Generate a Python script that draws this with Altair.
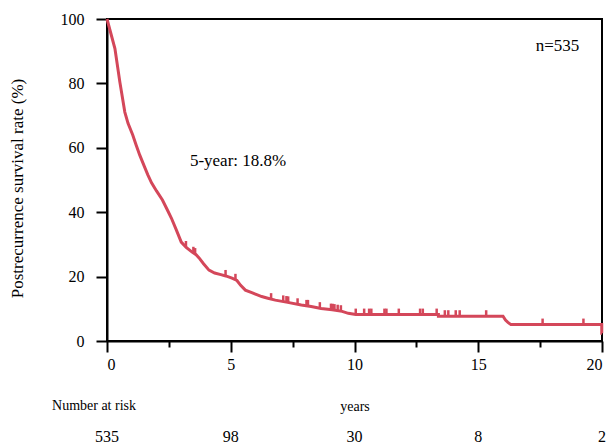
import altair as alt
import pandas as pd

# Kaplan-Meier curve (years, survival %)
curve_t = [0, 0.32, 0.52, 0.72, 0.85, 1.04, 1.18, 1.32, 1.5, 1.65, 1.8, 2.0, 2.24, 2.42,
           2.6, 2.8, 3.0, 3.2, 3.44, 3.6, 3.72, 3.9, 4.12, 4.35, 4.6, 4.8, 5.05, 5.25,
           5.4, 5.59, 5.85, 6.05, 6.25, 6.5, 6.8, 7.3, 7.85, 8.25, 8.65, 9.1, 9.5, 9.75,
           10.05, 13.39, 13.39, 16.0, 16.1, 16.2, 16.32, 19.99, 19.99, 20.0]
curve_s = [100, 90.8, 80.4, 71.1, 67.6, 64.0, 60.8, 57.8, 54.4, 51.6, 49.1, 46.6, 43.8, 41.0,
           38.2, 34.5, 30.7, 29.1, 27.6, 26.8, 25.8, 24.0, 22.0, 21.1, 20.6, 20.2, 19.5, 18.8,
           17.3, 15.8, 15.0, 14.4, 13.8, 13.3, 12.7, 12.0, 11.2, 10.7, 10.1, 9.7, 9.2, 8.6,
           8.2, 8.2, 7.7, 7.7, 6.5, 5.8, 5.1, 5.1, 2.4, 2.4]

# censored observations
cens_t = [3.19, 3.49, 3.56, 4.79, 5.19, 6.63, 7.12, 7.25, 7.32, 7.7, 8.06, 8.12, 8.6, 9.05,
          9.12, 9.19, 9.32, 9.45, 10.05, 10.39, 10.59, 10.68, 11.21, 11.29, 11.79, 12.65,
          12.76, 13.32, 13.65, 13.79, 14.09, 14.25, 15.32, 17.6, 19.25]
cens_s = [29.2, 27.4, 27.0, 20.2, 19.0, 13.0, 12.3, 12.1, 12.0, 11.4, 10.9, 10.9, 10.2, 9.75,
          9.7, 9.6, 9.4, 9.25, 8.2, 8.2, 8.2, 8.2, 8.2, 8.2, 8.2, 8.2,
          8.2, 8.2, 7.7, 7.7, 7.7, 7.7, 7.7, 5.1, 5.1]

risk_t = [0, 5, 10, 15, 20]
risk_n = ["535", "98", "30", "8", "2"]

x_ticks = [0, 2.5, 5, 7.5, 10, 12.5, 15, 17.5, 20]
y_ticks = [0, 10, 20, 30, 40, 50, 60, 70, 80, 90, 100]

notes_t = [18.2, 3.35]
notes_s = [91.7, 56.0]
notes_txt = ["n=535", "5-year: 18.8%"]
notes_align = ["center", "left"]

RED = "#d4475a"
SERIF = "Liberation Serif"

curve = pd.DataFrame({"t": curve_t, "s": curve_s, "i": list(range(len(curve_t)))})
cens = pd.DataFrame({"t": cens_t, "s": cens_s})
risk = pd.DataFrame({"t": risk_t, "n": risk_n})

xscale = alt.Scale(domain=[0, 20], nice=False, zero=False)
yscale = alt.Scale(domain=[0, 100], nice=False)

xaxis = alt.Axis(
    values=x_ticks,
    tickSize={"condition": {"test": "datum.value % 5 != 0", "value": 6}, "value": 11},
    labelExpr="datum.value % 5 == 0 ? datum.label : ''",
    labelOverlap=False,
    labelPadding=4,
    title="years",
    titleFontSize=14,
    titleY=69,
    titleBaseline="alphabetic",
)
yaxis = alt.Axis(
    values=y_ticks,
    tickSize={"condition": {"test": "datum.value % 20 != 0", "value": 6}, "value": 11},
    labelExpr="datum.value % 20 == 0 ? datum.label : ''",
    labelOverlap=False,
    labelPadding=12,
    title="Postrecurrence survival rate (%)",
    titleFontSize=17,
    titleX=-90,
    titleY=169,
    titleAngle=270,
    titleAlign="center",
    titleBaseline="middle",
)

X = alt.X("t:Q", scale=xscale)
Y = alt.Y("s:Q", scale=yscale)

line = alt.Chart(curve).mark_line(color=RED, strokeWidth=3, interpolate="linear").encode(
    x=alt.X("t:Q", scale=xscale, axis=xaxis),
    y=alt.Y("s:Q", scale=yscale, axis=yaxis),
    order="i:Q",
)

ticks = alt.Chart(cens).mark_rule(color=RED, strokeWidth=2.5, y2Offset=-6).encode(
    x=X, y=Y, y2="s:Q",
)

notes = alt.Chart(pd.DataFrame({"t": notes_t, "s": notes_s, "txt": notes_txt, "al": notes_align}))
note1 = notes.transform_filter("datum.al == 'center'").mark_text(
    font=SERIF, fontSize=17, align="center", baseline="middle", color="black"
).encode(x=X, y=Y, text="txt:N")
note2 = notes.transform_filter("datum.al == 'left'").mark_text(
    font=SERIF, fontSize=17, align="left", baseline="middle", color="black"
).encode(x=X, y=Y, text="txt:N")

risk_text = alt.Chart(risk).mark_text(
    font=SERIF, fontSize=16, align="center", baseline="alphabetic", color="black"
).encode(x=X, y=alt.value(423), text="n:N")

risk_label = alt.Chart(pd.DataFrame({"lab": ["Number at risk"]})).mark_text(
    font=SERIF, fontSize=14, align="center", baseline="alphabetic", color="black"
).encode(x=alt.value(-13), y=alt.value(391), text="lab:N")

chart = alt.layer(line, ticks, note1, note2, risk_text, risk_label).properties(
    width=495,
    height=322,
    padding={"left": 99, "top": 11, "right": 6, "bottom": 116},
    autosize=alt.AutoSizeParams(type="none"),
).configure_view(
    stroke="black", strokeWidth=2
).configure_axis(
    domainColor="black", domainWidth=2, tickColor="black", tickWidth=2,
    labelColor="black", titleColor="black", labelFont=SERIF, titleFont=SERIF,
    labelFontSize=16, titleFontWeight="normal", grid=False,
)

chart.save("out.html", embed_options={"renderer": "svg", "actions": False})
